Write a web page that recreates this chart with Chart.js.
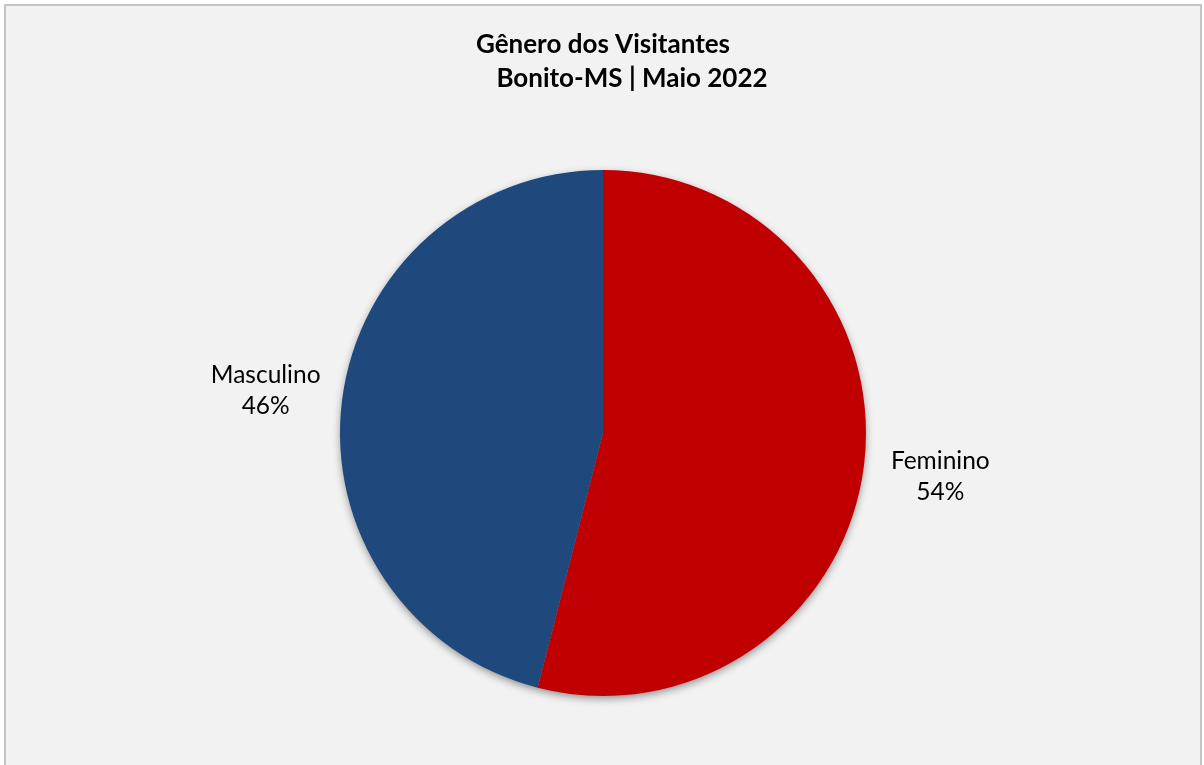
<!DOCTYPE html>
<html>
<head>
<meta charset="utf-8">
<script src="https://cdn.jsdelivr.net/npm/chart.js@4"></script>
<style>
  html, body { margin: 0; padding: 0; background: #ffffff; }
  #wrap { position: absolute; left: 0; top: 0; width: 1204px; height: 765px; }
  #frame { position: absolute; left: 4px; top: 4px; width: 1194px; height: 770px;
           border: 2px solid #c4c4c4; background: #f2f2f2; box-sizing: content-box; }
  canvas { position: absolute; left: 0; top: 0; }
</style>
</head>
<body>
<div id="wrap">
  <div id="frame"></div>
  <canvas id="chart" width="1204" height="765"></canvas>
</div>
<script>
const categories = ['Feminino', 'Masculino'];
const shares = [54, 46];
const sliceColors = ['#c00000', '#1f497d'];
const titleLines = ['Gênero dos Visitantes', 'Bonito-MS | Maio 2022'];

const fontFamily = 'Lato, "Open Sans", sans-serif';

// soft shadow under the whole pie, like the Excel original
const pieShadow = {
  id: 'pieShadow',
  beforeDatasetsDraw(chart) {
    const arc = chart.getDatasetMeta(0).data[0];
    if (!arc) return;
    const ctx = chart.ctx;
    ctx.save();
    ctx.shadowColor = 'rgba(0,0,0,0.45)';
    ctx.shadowBlur = 9;
    ctx.shadowOffsetY = 3;
    ctx.fillStyle = '#888';
    ctx.beginPath();
    ctx.arc(arc.x, arc.y, arc.outerRadius - 1, 0, Math.PI * 2);
    ctx.fill();
    ctx.restore();
  }
};

// two-line title, second line shifted right as in the reference
const titleText = {
  id: 'titleText',
  afterDraw(chart) {
    const ctx = chart.ctx;
    ctx.save();
    ctx.fillStyle = '#000';
    ctx.font = 'bold 26px ' + fontFamily;
    ctx.textAlign = 'center';
    ctx.textBaseline = 'middle';
    ctx.fillText(titleLines[0], 603, 45);
    ctx.fillText(titleLines[1], 632, 79);
    ctx.restore();
  }
};

// category name + percent outside each slice
const outsideLabels = {
  id: 'outsideLabels',
  afterDatasetsDraw(chart) {
    const ctx = chart.ctx;
    const meta = chart.getDatasetMeta(0);
    const total = shares.reduce((a, b) => a + b, 0);
    ctx.save();
    ctx.fillStyle = '#000';
    ctx.font = '24.5px ' + fontFamily;
    ctx.textAlign = 'center';
    ctx.textBaseline = 'middle';
    meta.data.forEach((arc, i) => {
      const mid = (arc.startAngle + arc.endAngle) / 2;
      const d = arc.outerRadius + 77;
      const x = arc.x + Math.cos(mid) * d;
      const y = arc.y + Math.sin(mid) * d;
      const pct = Math.round(shares[i] / total * 100) + '%';
      ctx.fillText(categories[i], x, y - 15);
      ctx.fillText(pct, x, y + 16);
    });
    ctx.restore();
  }
};

new Chart(document.getElementById('chart'), {
  type: 'pie',
  data: {
    labels: categories,
    datasets: [{
      data: shares,
      backgroundColor: sliceColors,
      borderWidth: 0
    }]
  },
  options: {
    responsive: false,
    animation: false,
    layout: { padding: { left: 340, right: 338, top: 170, bottom: 69 } },
    plugins: {
      legend: { display: false },
      title: { display: false },
      tooltip: { enabled: false }
    }
  },
  plugins: [pieShadow, outsideLabels, titleText]
});
</script>
</body>
</html>
